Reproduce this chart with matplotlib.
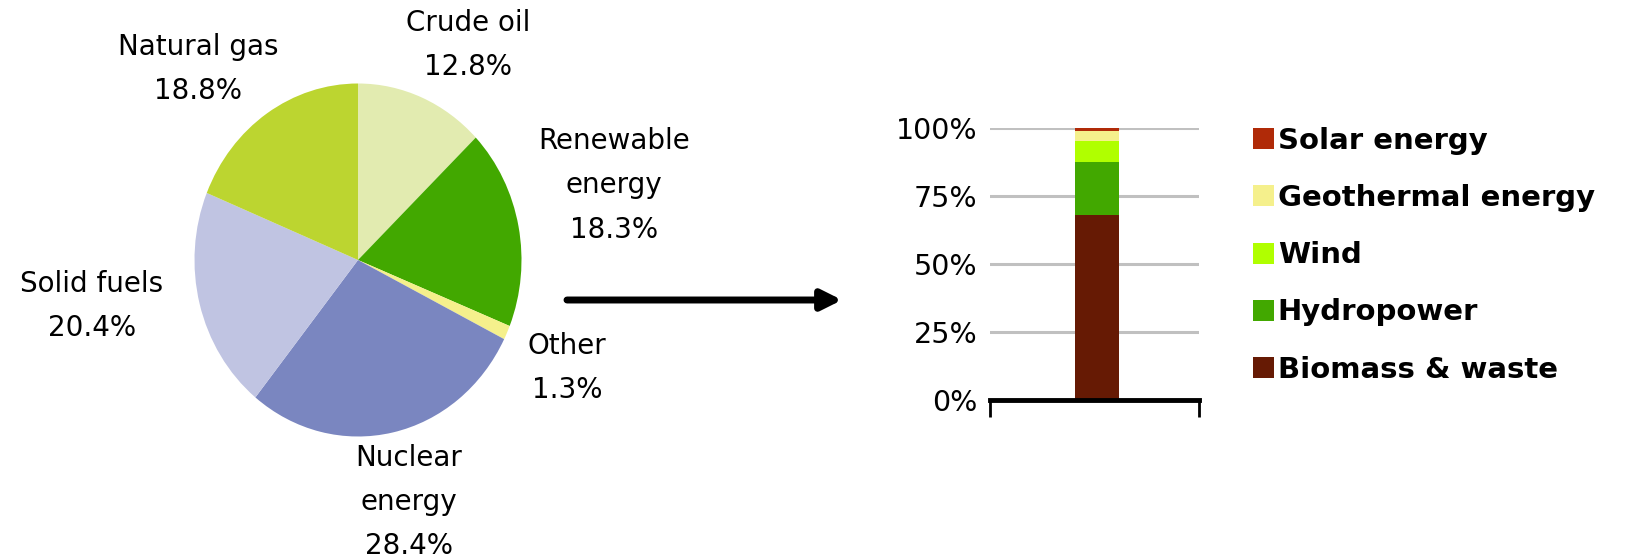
import matplotlib
matplotlib.use("Agg")
import matplotlib.pyplot as plt
from matplotlib.patches import Patch

plt.rcParams['font.family'] = ['DejaVu Sans']

# ---- data ----
pie_labels = ["Crude oil", "Renewable\nenergy", "Other", "Nuclear\nenergy", "Solid fuels", "Natural gas"]
pie_values = [12.8, 18.3, 1.3, 28.4, 20.4, 18.8]
pie_colors = ["#E2EBB0", "#42A800", "#F5F08C", "#7A86C0", "#C0C4E2", "#BCD530"]

bar_categories = ["Biomass & waste", "Hydropower", "Wind", "Geothermal energy", "Solar energy"]
bar_values = [68.0, 19.5, 7.6, 3.9, 1.0]
bar_colors = ["#661A04", "#42A800", "#B0FF00", "#F5F08C", "#B02A08"]
y_ticks = [0, 25, 50, 75, 100]
y_tick_labels = ["0%", "25%", "50%", "75%", "100%"]

W, H = 1637, 558
fig = plt.figure(figsize=(W / 100, H / 100), dpi=100)

def px(x, y):
    return x / W, 1 - y / H

# ---- pie (elliptical) ----
cx, cy, pw, ph = 358, 260, 327, 353
axp = fig.add_axes([(cx - pw / 2) / W, 1 - (cy + ph / 2) / H, pw / W, ph / H])
axp.pie(pie_values, colors=pie_colors, startangle=90, counterclock=False,
        wedgeprops=dict(linewidth=0))
axp.set_aspect('auto')
axp.set_xlim(-1, 1)
axp.set_ylim(-1, 1)
axp.axis('off')

label_pos = [(468, 45), (614, 185), (567, 368), (409, 502), (92, 306), (198, 69)]
fs = 20
for lab, val, (x, y) in zip(pie_labels, pie_values, label_pos):
    fig.text(*px(x, y), f"{lab}\n{val:.1f}%", ha='center', va='center',
             fontsize=fs, linespacing=1.75)

# ---- arrow ----
fig.add_artist(matplotlib.patches.FancyArrowPatch(
    px(567, 300), px(842, 300), transform=fig.transFigure,
    arrowstyle='-|>', mutation_scale=30, lw=5, color='black',
    shrinkA=0, shrinkB=0))

# ---- stacked bar ----
ax = fig.add_axes([990 / W, 1 - 400 / H, 209 / W, 272 / H])
bottom = 0
for v, c in zip(bar_values, bar_colors):
    ax.bar(0.512, v, width=0.21, bottom=bottom, color=c, zorder=3, linewidth=0)
    bottom += v
ax.set_xlim(0, 1)
ax.set_ylim(0, 100)
ax.set_yticks(y_ticks)
ax.set_yticklabels(y_tick_labels, fontsize=20.5)
ax.tick_params(axis='y', length=0, pad=9)
ax.set_xticks([0, 1])
ax.set_xticklabels([])
ax.tick_params(axis='x', length=12, width=2, direction='out', color='black')
for s in ['left', 'right', 'top']:
    ax.spines[s].set_visible(False)
ax.spines['bottom'].set_linewidth(3.5)
ax.spines['bottom'].set_zorder(4)
ax.yaxis.grid(True, color='#C0C0C0', linewidth=2.2, zorder=0)
ax.set_axisbelow(True)

handles = [Patch(facecolor=c, edgecolor='none') for c in bar_colors][::-1]
labels = bar_categories[::-1]
fig.legend(handles, labels, loc='upper left', bbox_to_anchor=px(1253, 127),
           frameon=False, prop=dict(size=21, weight='bold'),
           handlelength=0.73, handleheight=0.73, handletextpad=0.12,
           labelspacing=1.0, borderpad=0, borderaxespad=0)

fig.savefig("out.png", dpi=100, facecolor='white')
